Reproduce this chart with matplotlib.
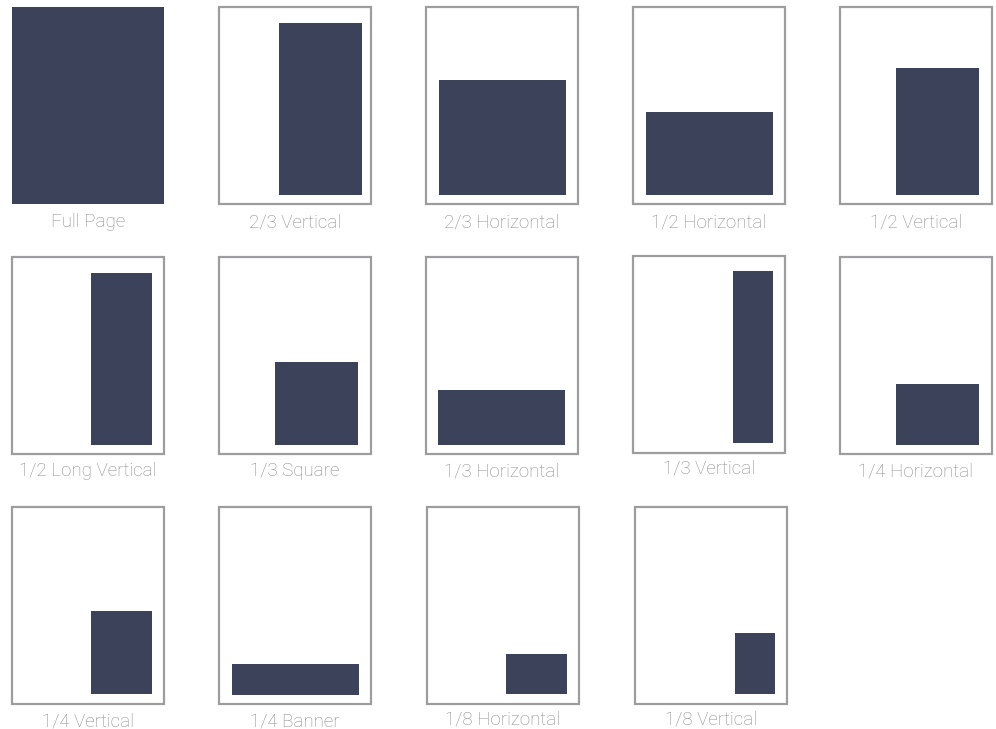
import matplotlib
matplotlib.use("Agg")
import matplotlib.pyplot as plt
from matplotlib.patches import Rectangle

# Ad sizes (page-unit data; page is 152 x 197 units, ad anchored bottom-right of live area)
labels = ["Full Page", "2/3 Vertical", "2/3 Horizontal", "1/2 Horizontal", "1/2 Vertical",
          "1/2 Long Vertical", "1/3 Square", "1/3 Horizontal", "1/3 Vertical", "1/4 Horizontal",
          "1/4 Vertical", "1/4 Banner", "1/8 Horizontal", "1/8 Vertical"]
ad_width = [152, 83, 127, 127, 83,
            61, 83, 127, 40, 83,
            61, 127, 61, 40]
ad_height = [197, 172, 115, 83, 127,
             172, 83, 55, 172, 61,
             83, 31, 40, 61]
grid_row = [0, 0, 0, 0, 0, 1, 1, 1, 1, 1, 2, 2, 2, 2]
grid_col = [0, 1, 2, 3, 4, 0, 1, 2, 3, 4, 0, 1, 2, 3]

FILL = "#3b4259"
FRAME = "#9d9d9f"
TEXT = "#8c8c8c"

fig = plt.figure(figsize=(9.96, 7.29), dpi=100)
ax = fig.add_axes([0, 0, 1, 1])
ax.set_xlim(0, 996)
ax.set_ylim(729, 0)
ax.axis("off")

PAGE_W, PAGE_H = 152, 197
col_x = [12, 219, 426, 633, 840]
row_y = [7, 257, 507]
x_shift = [0, 0, 0, 0, 0, 0, 0, 0, 0, 0, 0, 0, 1, 2]
y_shift = [0, 0, 0, 0, 0, 0, 0, 0, -1, 0, 0, 0, 0, 0]
margin_right = [0, 9, 12, 12, 13, 12, 13, 13, 12, 13, 12, 12, 12, 12]
margin_bottom = [0, 9, 9, 9, 9, 9, 9, 9, 10, 9, 10, 9, 10, 10]
label_base = [23, 23, 23, 23, 23, 22, 22, 22, 20, 22, 22, 22, 20, 20]

for i, lab in enumerate(labels):
    fx = col_x[grid_col[i]] + x_shift[i]
    fy = row_y[grid_row[i]] + y_shift[i]
    w, h = ad_width[i], ad_height[i]
    if w >= PAGE_W:
        ax.add_patch(Rectangle((fx, fy), PAGE_W, PAGE_H, facecolor=FILL, edgecolor="none"))
    else:
        ax.add_patch(Rectangle((fx, fy), PAGE_W, PAGE_H, facecolor="white",
                               edgecolor=FRAME, linewidth=1.6))
        right = fx + PAGE_W - margin_right[i]
        bottom = fy + PAGE_H - margin_bottom[i]
        ax.add_patch(Rectangle((right - w, bottom - h), w, h, facecolor=FILL, edgecolor="none"))
    ax.text(fx + PAGE_W / 2, fy + PAGE_H + label_base[i], lab, ha="center", va="baseline",
            fontsize=13.5, color=TEXT, family="Roboto", fontweight="light")

fig.savefig("out.png", dpi=100)
